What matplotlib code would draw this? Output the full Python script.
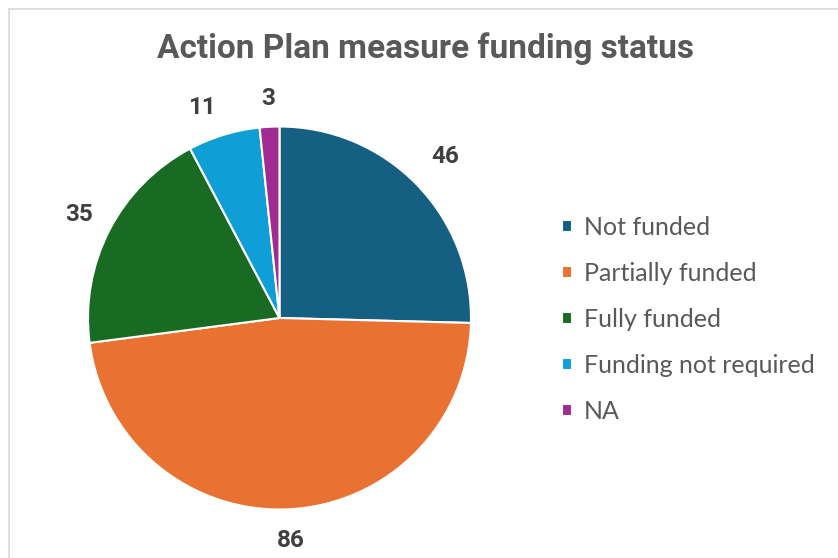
import matplotlib.pyplot as plt
import numpy as np
from matplotlib.patches import Rectangle

categories = ['Not funded', 'Partially funded', 'Fully funded', 'Funding not required', 'NA']
counts = [46, 86, 35, 11, 3]
colors = ['#156082', '#E97132', '#196B24', '#0F9ED5', '#A02B93']

# count label placement: distance in pie radii, and a small angle nudge in degrees
label_dist = [1.21, 1.165, 1.18, 1.17, 1.15]
label_nudge = [0, 0, 0, 3.4, 0]

fig = plt.figure(figsize=(8.38, 5.58), dpi=100)

# chart area outline
fig.patches.append(Rectangle((9 / 838, -0.1), 1.2, 1 - 9 / 558 + 0.1, transform=fig.transFigure,
                             fill=False, edgecolor='#D9D9D9', linewidth=1.2))

cx, cy, r = 279.5, 318, 191.5
ax = fig.add_axes([(cx - r) / 838, (558 - cy - r) / 558, 2 * r / 838, 2 * r / 558])
wedges, _ = ax.pie(counts, colors=colors, startangle=90, counterclock=False,
                   wedgeprops=dict(edgecolor='white', linewidth=1.5))
ax.set_xlim(-1, 1)
ax.set_ylim(-1, 1)
ax.set_aspect('equal')
ax.axis('off')

for w, n, d, nudge in zip(wedges, counts, label_dist, label_nudge):
    ang = np.deg2rad((w.theta1 + w.theta2) / 2 + nudge)
    ax.text(d * np.cos(ang), d * np.sin(ang), str(n), ha='center', va='center',
            fontsize=17.5, fontweight='bold', color='#404040', family='Roboto', clip_on=False)

fig.text(425 / 838, 1 - 58 / 558, 'Action Plan measure funding status', ha='center', va='baseline',
         fontsize=24, fontweight='bold', color='#595959', family='Roboto')

fig.legend(wedges, categories, loc='upper left', bbox_to_anchor=(562 / 838, 1 - 216 / 558),
           frameon=False, handlelength=0.38, handleheight=0.38, handletextpad=0.5,
           labelspacing=0.92, prop={'family': 'Lato', 'size': 18}, labelcolor='#595959',
           borderpad=0, borderaxespad=0)

fig.savefig('out.png', dpi=100)
